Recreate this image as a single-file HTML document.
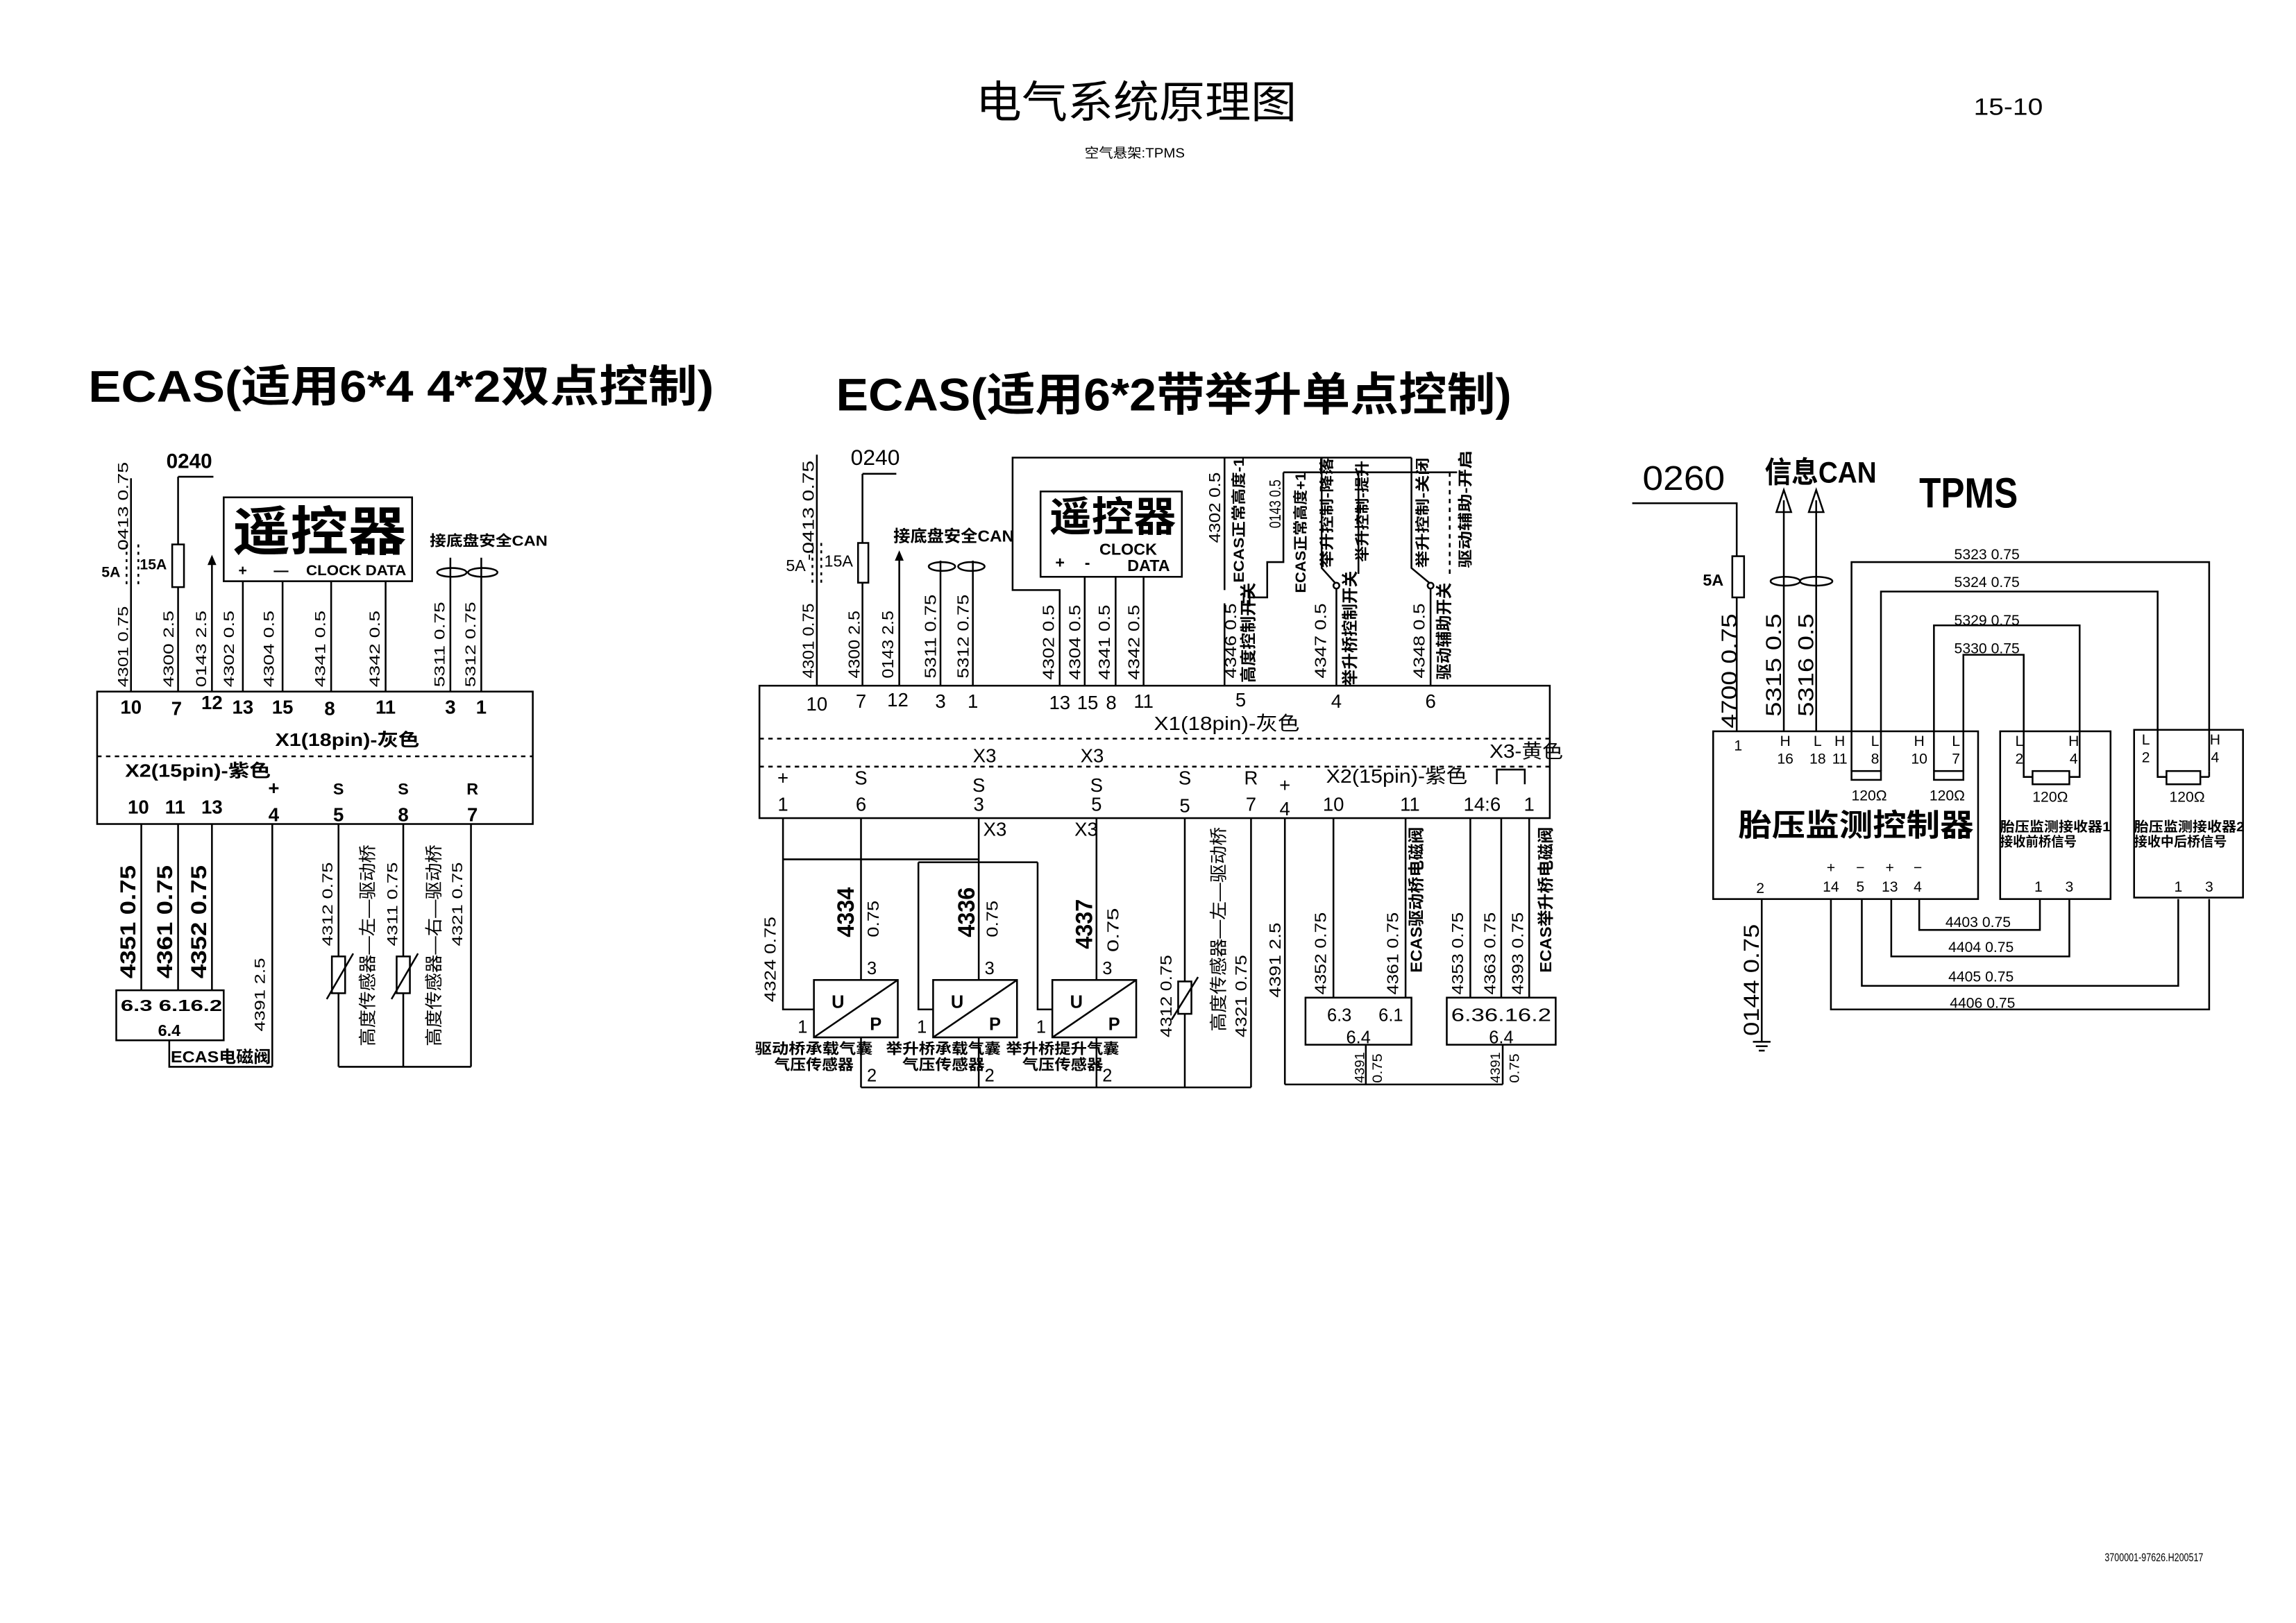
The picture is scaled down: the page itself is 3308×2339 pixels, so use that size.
<!DOCTYPE html>
<html><head><meta charset="utf-8"><style>
html,body{margin:0;padding:0;background:#fff}
svg{display:block}
text{font-family:"Liberation Sans","Noto Sans CJK SC",sans-serif;fill:#000}
.b{font-weight:bold}
</style></head><body>
<svg width="3308" height="2339" viewBox="0 0 1560 1103" preserveAspectRatio="none" xmlns="http://www.w3.org/2000/svg">
<rect width="1560" height="1103" fill="#fff"/>
<g stroke="#000" stroke-width="1.2" fill="none">
<!-- ===== Section 1 ===== -->
<rect x="66" y="470" width="296" height="90"/>
<line x1="66" y1="514" x2="362" y2="514" stroke-dasharray="3,3"/>
<line x1="89" y1="325" x2="89" y2="470"/>
<line x1="86" y1="370" x2="86" y2="399" stroke-dasharray="2,3"/>
<line x1="94" y1="370" x2="94" y2="399" stroke-dasharray="2,3"/>
<line x1="121" y1="324" x2="121" y2="470"/>
<line x1="121" y1="324" x2="145" y2="324"/>
<rect x="117" y="370" width="8" height="29" fill="#fff"/>
<line x1="144" y1="381" x2="144" y2="470"/>
<rect x="152" y="338" width="128" height="57"/>
<line x1="165" y1="395" x2="165" y2="470"/>
<line x1="192" y1="395" x2="192" y2="470"/>
<line x1="225" y1="395" x2="225" y2="470"/>
<line x1="262" y1="395" x2="262" y2="470"/>
<line x1="306" y1="379" x2="306" y2="470"/>
<line x1="327" y1="379" x2="327" y2="470"/>
<ellipse cx="307" cy="389" rx="10" ry="3"/>
<ellipse cx="328" cy="389" rx="10" ry="3"/>
<line x1="96" y1="560" x2="96" y2="673"/>
<line x1="121" y1="560" x2="121" y2="673"/>
<line x1="144" y1="560" x2="144" y2="673"/>
<rect x="79" y="673" width="73" height="34"/>
<polyline points="115,707 115,725 185,725"/>
<line x1="185" y1="560" x2="185" y2="725"/>
<line x1="230" y1="560" x2="230" y2="725"/>
<line x1="274" y1="560" x2="274" y2="725"/>
<line x1="320" y1="560" x2="320" y2="725"/>
<line x1="230" y1="725" x2="320" y2="725"/>
<rect x="225.5" y="650" width="9" height="25" fill="#fff"/>
<line x1="222" y1="679" x2="240" y2="648"/>
<rect x="269.5" y="650" width="9" height="25" fill="#fff"/>
<line x1="266" y1="679" x2="284" y2="648"/>
<!-- ===== Section 2 ===== -->
<rect x="516" y="466" width="537" height="90"/>
<line x1="516" y1="502" x2="1053" y2="502" stroke-dasharray="3,3"/>
<line x1="516" y1="521" x2="1053" y2="521" stroke-dasharray="3,3"/>
<line x1="555" y1="309" x2="555" y2="466"/>
<line x1="552" y1="369" x2="552" y2="396" stroke-dasharray="2,3"/>
<line x1="558" y1="369" x2="558" y2="396" stroke-dasharray="2,3"/>
<line x1="586" y1="322" x2="586" y2="466"/>
<line x1="586" y1="322" x2="609" y2="322"/>
<rect x="583" y="369" width="7" height="27" fill="#fff"/>
<line x1="611" y1="378" x2="611" y2="466"/>
<line x1="639" y1="381" x2="639" y2="466"/>
<line x1="661" y1="381" x2="661" y2="466"/>
<ellipse cx="640" cy="385" rx="9" ry="3"/>
<ellipse cx="660" cy="385" rx="9" ry="3"/>
<rect x="707" y="334" width="96" height="58"/>
<polyline points="720,466 720,401 688,401 688,311 959,311"/>
<line x1="737" y1="392" x2="737" y2="466"/>
<line x1="758" y1="392" x2="758" y2="466"/>
<line x1="777" y1="392" x2="777" y2="466"/>
<!-- switches -->
<line x1="832" y1="311" x2="832" y2="401"/>
<line x1="832" y1="410" x2="832" y2="466"/>
<line x1="845" y1="403" x2="845" y2="410"/>
<line x1="849" y1="401" x2="849" y2="412"/>
<polyline points="849,406 861,406 861,382 872,382 872,321"/>
<line x1="872" y1="321" x2="988" y2="321"/>
<line x1="988" y1="321" x2="996" y2="321" stroke-dasharray="2,2"/>
<line x1="908" y1="400" x2="908" y2="466"/>
<circle cx="908" cy="398" r="2"/>
<polyline points="907,396 898,386 898,311"/>
<line x1="923" y1="321" x2="923" y2="390"/>
<line x1="972" y1="400" x2="972" y2="466"/>
<circle cx="972" cy="398" r="2"/>
<polyline points="971,396 959,386 959,311"/>
<line x1="985" y1="321" x2="985" y2="392" stroke-dasharray="3,3"/>
<!-- bottom -->
<polyline points="532,556 532,686 553,686"/>
<line x1="532" y1="584" x2="665" y2="584"/>
<line x1="585" y1="556" x2="585" y2="666"/>
<line x1="585" y1="705" x2="585" y2="739"/>
<line x1="665" y1="556" x2="665" y2="666"/>
<line x1="665" y1="705" x2="665" y2="739"/>
<line x1="624" y1="586" x2="705" y2="586"/>
<polyline points="624,586 624,686 634,686"/>
<polyline points="705,586 705,686 715,686"/>
<line x1="745" y1="556" x2="745" y2="666"/>
<line x1="745" y1="705" x2="745" y2="739"/>
<rect x="553" y="666" width="57" height="39"/>
<line x1="553" y1="705" x2="610" y2="666"/>
<rect x="634" y="666" width="57" height="39"/>
<line x1="634" y1="705" x2="691" y2="666"/>
<rect x="715" y="666" width="57" height="39"/>
<line x1="715" y1="705" x2="772" y2="666"/>
<line x1="805" y1="556" x2="805" y2="739"/>
<rect x="800.5" y="667" width="9" height="22" fill="#fff"/>
<line x1="796" y1="693" x2="814" y2="664"/>
<line x1="850" y1="556" x2="850" y2="739"/>
<line x1="585" y1="739" x2="850" y2="739"/>
<line x1="873" y1="556" x2="873" y2="737"/>
<line x1="873" y1="737" x2="1021" y2="737"/>
<line x1="906" y1="556" x2="906" y2="678"/>
<line x1="955" y1="556" x2="955" y2="678"/>
<rect x="887" y="678" width="72" height="32"/>
<line x1="928" y1="710" x2="928" y2="737"/>
<line x1="999" y1="556" x2="999" y2="678"/>
<line x1="1020" y1="556" x2="1020" y2="678"/>
<line x1="1039" y1="556" x2="1039" y2="678"/>
<rect x="983" y="678" width="74" height="32"/>
<line x1="1021" y1="710" x2="1021" y2="737"/>
<polyline points="1017,533 1017,523 1036,523 1036,533"/>
<!-- ===== Section 3 ===== -->
<polyline points="1109,342 1180,342 1180,497"/>
<rect x="1177" y="378" width="8" height="28" fill="#fff"/>
<line x1="1212" y1="340" x2="1212" y2="497"/>
<line x1="1234" y1="340" x2="1234" y2="497"/>
<polygon points="1207,348 1212,333 1217,348"/>
<polygon points="1229,348 1234,333 1239,348"/>
<ellipse cx="1213" cy="395" rx="10" ry="3"/>
<ellipse cx="1234" cy="395" rx="11" ry="3"/>
<rect x="1164" y="497" width="180" height="114"/>
<rect x="1359" y="497" width="75" height="114"/>
<rect x="1450" y="496" width="74" height="114"/>
<polyline points="1258,524 1258,382 1501,382 1501,524"/>
<polyline points="1278,524 1278,402 1466,402 1466,528 1472,528"/>
<polyline points="1314,524 1314,425 1413,425 1413,528 1406,528"/>
<polyline points="1334,524 1334,445 1375,445 1375,528 1381,528"/>
<line x1="1495" y1="528" x2="1501" y2="528"/>
<line x1="1501" y1="524" x2="1501" y2="528"/>
<rect x="1258" y="524" width="20" height="6"/>
<rect x="1314" y="524" width="20" height="6"/>
<rect x="1381" y="524" width="25" height="9"/>
<rect x="1472" y="524" width="23" height="9"/>
<polyline points="1304,611 1304,632 1386,632 1386,611"/>
<polyline points="1285,611 1285,650 1406,650 1406,611"/>
<polyline points="1265,611 1265,670 1480,670 1480,611"/>
<polyline points="1244,611 1244,686 1501,686 1501,611"/>
<line x1="1197" y1="611" x2="1197" y2="708"/>
<line x1="1191" y1="708" x2="1203" y2="708"/>
<line x1="1193" y1="711" x2="1201" y2="711"/>
<line x1="1195" y1="714" x2="1199" y2="714"/>
</g>
<polygon points="141,384 144,377 147,384" fill="#000"/>
<polygon points="608,381 611,374 614,381" fill="#000"/>

<!-- ===== Titles ===== -->
<text x="663" y="80" font-size="30" textLength="218" lengthAdjust="spacingAndGlyphs">电气系统原理图</text>
<text x="1341" y="78" font-size="16" textLength="47" lengthAdjust="spacingAndGlyphs">15-10</text>
<text x="737" y="107" font-size="9" textLength="68" lengthAdjust="spacingAndGlyphs">空气悬架:TPMS</text>
<text x="1430" y="1061" font-size="8" textLength="67" lengthAdjust="spacingAndGlyphs">3700001-97626.H200517</text>
<text x="60" y="273" font-size="30" class="b" textLength="425" lengthAdjust="spacingAndGlyphs">ECAS(适用6*4  4*2双点控制)</text>
<text x="568" y="279" font-size="31" class="b" textLength="459" lengthAdjust="spacingAndGlyphs">ECAS(适用6*2带举升单点控制)</text>

<!-- Section 1 text -->
<g font-size="10">
<text x="113" y="318" font-size="14" class="b">0240</text>
<text x="158" y="374" font-size="36" class="b" textLength="118" lengthAdjust="spacingAndGlyphs">遥控器</text>
<text x="162" y="391" class="b">+</text>
<text x="186" y="391" class="b">—</text>
<text x="208" y="391" class="b" textLength="68" lengthAdjust="spacingAndGlyphs">CLOCK DATA</text>
<text x="292" y="371" class="b" textLength="80" lengthAdjust="spacingAndGlyphs">接底盘安全CAN</text>
<text x="69" y="392" class="b">5A</text>
<text x="95" y="387" class="b">15A</text>
</g>
<g font-size="13" class="b" text-anchor="middle">
<text x="89" y="485">10</text><text x="120" y="486">7</text><text x="144" y="482">12</text>
<text x="165" y="485">13</text><text x="192" y="485">15</text><text x="224" y="486">8</text>
<text x="262" y="485">11</text><text x="306" y="485">3</text><text x="327" y="485">1</text>
<text x="186" y="540">+</text><text x="230" y="540" font-size="11">S</text><text x="274" y="540" font-size="11">S</text><text x="321" y="540" font-size="11">R</text>
<text x="94" y="553">10</text><text x="119" y="553">11</text><text x="144" y="553">13</text>
<text x="186" y="558">4</text><text x="230" y="558">5</text><text x="274" y="558">8</text><text x="321" y="558">7</text>
<text x="115" y="704" font-size="11">6.4</text>
</g>
<text x="187" y="507" font-size="12" class="b" textLength="98" lengthAdjust="spacingAndGlyphs">X1(18pin)-灰色</text>
<text x="85" y="528" font-size="12" class="b" textLength="99" lengthAdjust="spacingAndGlyphs">X2(15pin)-紫色</text>
<text x="82" y="687" font-size="11" class="b" textLength="69" lengthAdjust="spacingAndGlyphs">6.3 6.16.2</text>
<text x="116" y="722" font-size="11" class="b" textLength="68" lengthAdjust="spacingAndGlyphs">ECAS电磁阀</text>
<g font-size="10" lengthAdjust="spacingAndGlyphs">
<text transform="translate(87,467) rotate(-90)" textLength="55" lengthAdjust="spacingAndGlyphs">4301 0.75</text>
<text transform="translate(87,374) rotate(-90)" textLength="60" lengthAdjust="spacingAndGlyphs">0413 0.75</text>
<text transform="translate(118,467) rotate(-90)" textLength="52" lengthAdjust="spacingAndGlyphs">4300 2.5</text>
<text transform="translate(140,467) rotate(-90)" textLength="52" lengthAdjust="spacingAndGlyphs">0143 2.5</text>
<text transform="translate(159,467) rotate(-90)" textLength="52" lengthAdjust="spacingAndGlyphs">4302 0.5</text>
<text transform="translate(186,467) rotate(-90)" textLength="52" lengthAdjust="spacingAndGlyphs">4304 0.5</text>
<text transform="translate(221,467) rotate(-90)" textLength="52" lengthAdjust="spacingAndGlyphs">4341 0.5</text>
<text transform="translate(258,467) rotate(-90)" textLength="52" lengthAdjust="spacingAndGlyphs">4342 0.5</text>
<text transform="translate(302,467) rotate(-90)" textLength="58" lengthAdjust="spacingAndGlyphs">5311 0.75</text>
<text transform="translate(323,467) rotate(-90)" textLength="58" lengthAdjust="spacingAndGlyphs">5312 0.75</text>
<text transform="translate(92,665) rotate(-90)" font-size="15" class="b" textLength="77" lengthAdjust="spacingAndGlyphs">4351 0.75</text>
<text transform="translate(117,665) rotate(-90)" font-size="15" class="b" textLength="77" lengthAdjust="spacingAndGlyphs">4361 0.75</text>
<text transform="translate(140,665) rotate(-90)" font-size="15" class="b" textLength="77" lengthAdjust="spacingAndGlyphs">4352 0.75</text>
<text transform="translate(180,701) rotate(-90)" textLength="50" lengthAdjust="spacingAndGlyphs">4391 2.5</text>
<text transform="translate(226,643) rotate(-90)" textLength="57" lengthAdjust="spacingAndGlyphs">4312 0.75</text>
<text transform="translate(254,711) rotate(-90)" font-size="12" textLength="137" lengthAdjust="spacingAndGlyphs">高度传感器—左—驱动桥</text>
<text transform="translate(270,643) rotate(-90)" textLength="57" lengthAdjust="spacingAndGlyphs">4311 0.75</text>
<text transform="translate(299,711) rotate(-90)" font-size="12" textLength="137" lengthAdjust="spacingAndGlyphs">高度传感器—右—驱动桥</text>
<text transform="translate(314,643) rotate(-90)" textLength="57" lengthAdjust="spacingAndGlyphs">4321 0.75</text>
</g>

<!-- Section 2 text -->
<text x="578" y="316" font-size="15">0240</text>
<text x="713" y="361" font-size="28" class="b" textLength="86" lengthAdjust="spacingAndGlyphs">遥控器</text>
<g font-size="11" class="b">
<text x="717" y="386">+</text><text x="737" y="386">-</text>
<text x="747" y="377">CLOCK</text><text x="766" y="388">DATA</text>
<text x="607" y="368" textLength="82" lengthAdjust="spacingAndGlyphs">接底盘安全CAN</text>
<text x="534" y="388" font-weight="normal">5A</text><text x="560" y="385" font-weight="normal">15A</text>
</g>
<g font-size="13" text-anchor="middle">
<text x="555" y="483">10</text><text x="585" y="481">7</text><text x="610" y="480">12</text>
<text x="639" y="481">3</text><text x="661" y="481">1</text><text x="720" y="482">13</text>
<text x="739" y="482">15</text><text x="755" y="482">8</text><text x="777" y="481">11</text>
<text x="843" y="480">5</text><text x="908" y="481">4</text><text x="972" y="481">6</text>
<text x="532" y="533">+</text><text x="585" y="533">S</text><text x="665" y="538">S</text><text x="745" y="538">S</text>
<text x="805" y="533">S</text><text x="850" y="533">R</text><text x="873" y="538">+</text>
<text x="532" y="551">1</text><text x="585" y="551">6</text><text x="665" y="551">3</text><text x="745" y="551">5</text>
<text x="805" y="552">5</text><text x="850" y="551">7</text><text x="873" y="554">4</text>
<text x="906" y="551">10</text><text x="958" y="551">11</text><text x="1007" y="551">14:6</text><text x="1039" y="551">1</text>
<text x="669" y="518">X3</text><text x="742" y="518">X3</text>
<text x="676" y="568">X3</text><text x="738" y="568">X3</text>
</g>
<text x="784" y="496" font-size="13" textLength="99" lengthAdjust="spacingAndGlyphs">X1(18pin)-灰色</text>
<text x="901" y="532" font-size="13" textLength="96" lengthAdjust="spacingAndGlyphs">X2(15pin)-紫色</text>
<text x="1012" y="515" font-size="13" textLength="50" lengthAdjust="spacingAndGlyphs">X3-黄色</text>
<g font-size="12" class="b">
<text x="565" y="685">U</text><text x="591" y="700">P</text>
<text x="646" y="685">U</text><text x="672" y="700">P</text>
<text x="727" y="685">U</text><text x="753" y="700">P</text>
<text x="542" y="702" font-weight="normal">1</text><text x="623" y="702" font-weight="normal">1</text><text x="704" y="702" font-weight="normal">1</text>
<text x="589" y="662" font-weight="normal">3</text><text x="669" y="662" font-weight="normal">3</text><text x="749" y="662" font-weight="normal">3</text>
<text x="589" y="735" font-weight="normal">2</text><text x="669" y="735" font-weight="normal">2</text><text x="749" y="735" font-weight="normal">2</text>
</g>
<g font-size="10" class="b" text-anchor="middle">
<text x="553" y="716" textLength="80" lengthAdjust="spacingAndGlyphs">驱动桥承载气囊</text>
<text x="553" y="727" textLength="54" lengthAdjust="spacingAndGlyphs">气压传感器</text>
<text x="641" y="716" textLength="78" lengthAdjust="spacingAndGlyphs">举升桥承载气囊</text>
<text x="641" y="727" textLength="56" lengthAdjust="spacingAndGlyphs">气压传感器</text>
<text x="722" y="716" textLength="77" lengthAdjust="spacingAndGlyphs">举升桥提升气囊</text>
<text x="722" y="727" textLength="55" lengthAdjust="spacingAndGlyphs">气压传感器</text>
</g>
<g font-size="12" text-anchor="middle">
<text x="910" y="694">6.3</text><text x="945" y="694">6.1</text><text x="923" y="709">6.4</text>
<text x="1020" y="694" textLength="68" lengthAdjust="spacingAndGlyphs">6.36.16.2</text><text x="1020" y="709">6.4</text>
</g>
<g font-size="11">
<text transform="translate(553,461) rotate(-90)" textLength="51" lengthAdjust="spacingAndGlyphs">4301 0.75</text>
<text transform="translate(553,381) rotate(-90)" textLength="68" lengthAdjust="spacingAndGlyphs">-0413 0.75</text>
<text transform="translate(584,461) rotate(-90)" textLength="46" lengthAdjust="spacingAndGlyphs">4300 2.5</text>
<text transform="translate(607,461) rotate(-90)" textLength="46" lengthAdjust="spacingAndGlyphs">0143 2.5</text>
<text transform="translate(636,461) rotate(-90)" textLength="57" lengthAdjust="spacingAndGlyphs">5311 0.75</text>
<text transform="translate(658,461) rotate(-90)" textLength="57" lengthAdjust="spacingAndGlyphs">5312 0.75</text>
<text transform="translate(716,462) rotate(-90)" textLength="51" lengthAdjust="spacingAndGlyphs">4302 0.5</text>
<text transform="translate(734,462) rotate(-90)" textLength="51" lengthAdjust="spacingAndGlyphs">4304 0.5</text>
<text transform="translate(754,462) rotate(-90)" textLength="51" lengthAdjust="spacingAndGlyphs">4341 0.5</text>
<text transform="translate(774,462) rotate(-90)" textLength="51" lengthAdjust="spacingAndGlyphs">4342 0.5</text>
<text transform="translate(840,461) rotate(-90)" textLength="51" lengthAdjust="spacingAndGlyphs">4346 0.5</text>
<text transform="translate(852,464) rotate(-90)" class="b" textLength="68" lengthAdjust="spacingAndGlyphs">高度控制开关</text>
<text transform="translate(829,369) rotate(-90)" textLength="48" lengthAdjust="spacingAndGlyphs">4302 0.5</text>
<text transform="translate(845,396) rotate(-90)" font-size="10" class="b" textLength="85" lengthAdjust="spacingAndGlyphs">ECAS正常高度-1</text>
<text transform="translate(870,359) rotate(-90)" textLength="33" lengthAdjust="spacingAndGlyphs">0143 0.5</text>
<text transform="translate(887,403) rotate(-90)" font-size="10" class="b" textLength="82" lengthAdjust="spacingAndGlyphs">ECAS正常高度+1</text>
<text transform="translate(901,461) rotate(-90)" textLength="51" lengthAdjust="spacingAndGlyphs">4347 0.5</text>
<text transform="translate(921,466) rotate(-90)" class="b" textLength="78" lengthAdjust="spacingAndGlyphs">举升桥控制开关</text>
<text transform="translate(905,386) rotate(-90)" font-size="10" class="b" textLength="75" lengthAdjust="spacingAndGlyphs">举升控制-降落</text>
<text transform="translate(929,382) rotate(-90)" font-size="10" class="b" textLength="69" lengthAdjust="spacingAndGlyphs">举升控制-提升</text>
<text transform="translate(968,461) rotate(-90)" textLength="51" lengthAdjust="spacingAndGlyphs">4348 0.5</text>
<text transform="translate(985,462) rotate(-90)" class="b" textLength="66" lengthAdjust="spacingAndGlyphs">驱动辅助开关</text>
<text transform="translate(970,386) rotate(-90)" font-size="10" class="b" textLength="75" lengthAdjust="spacingAndGlyphs">举升控制-关闭</text>
<text transform="translate(999,386) rotate(-90)" font-size="10" class="b" textLength="80" lengthAdjust="spacingAndGlyphs">驱动辅助-开启</text>
<text transform="translate(527,681) rotate(-90)" textLength="58" lengthAdjust="spacingAndGlyphs">4324 0.75</text>
<text transform="translate(580,637) rotate(-90)" font-size="16" class="b" textLength="34" lengthAdjust="spacingAndGlyphs">4334</text>
<text transform="translate(597,637) rotate(-90)" textLength="25" lengthAdjust="spacingAndGlyphs">0.75</text>
<text transform="translate(662,637) rotate(-90)" font-size="16" class="b" textLength="34" lengthAdjust="spacingAndGlyphs">4336</text>
<text transform="translate(678,637) rotate(-90)" textLength="25" lengthAdjust="spacingAndGlyphs">0.75</text>
<text transform="translate(742,645) rotate(-90)" font-size="16" class="b" textLength="34" lengthAdjust="spacingAndGlyphs">4337</text>
<text transform="translate(760,647) rotate(-90)" textLength="30" lengthAdjust="spacingAndGlyphs">0.75</text>
<text transform="translate(796,705) rotate(-90)" textLength="56" lengthAdjust="spacingAndGlyphs">4312 0.75</text>
<text transform="translate(832,701) rotate(-90)" font-size="12" textLength="139" lengthAdjust="spacingAndGlyphs">高度传感器—左—驱动桥</text>
<text transform="translate(847,705) rotate(-90)" textLength="56" lengthAdjust="spacingAndGlyphs">4321 0.75</text>
<text transform="translate(870,678) rotate(-90)" textLength="51" lengthAdjust="spacingAndGlyphs">4391 2.5</text>
<text transform="translate(901,676) rotate(-90)" textLength="56" lengthAdjust="spacingAndGlyphs">4352 0.75</text>
<text transform="translate(950,676) rotate(-90)" textLength="56" lengthAdjust="spacingAndGlyphs">4361 0.75</text>
<text transform="translate(966,661) rotate(-90)" class="b" textLength="99" lengthAdjust="spacingAndGlyphs">ECAS驱动桥电磁阀</text>
<text transform="translate(994,676) rotate(-90)" textLength="56" lengthAdjust="spacingAndGlyphs">4353 0.75</text>
<text transform="translate(1016,676) rotate(-90)" textLength="56" lengthAdjust="spacingAndGlyphs">4363 0.75</text>
<text transform="translate(1035,676) rotate(-90)" textLength="56" lengthAdjust="spacingAndGlyphs">4393 0.75</text>
<text transform="translate(1054,661) rotate(-90)" class="b" textLength="99" lengthAdjust="spacingAndGlyphs">ECAS举升桥电磁阀</text>
<text transform="translate(927,736) rotate(-90)" font-size="9" textLength="21" lengthAdjust="spacingAndGlyphs">4391</text>
<text transform="translate(939,736) rotate(-90)" font-size="9" textLength="20" lengthAdjust="spacingAndGlyphs">0.75</text>
<text transform="translate(1019,736) rotate(-90)" font-size="9" textLength="21" lengthAdjust="spacingAndGlyphs">4391</text>
<text transform="translate(1032,736) rotate(-90)" font-size="9" textLength="20" lengthAdjust="spacingAndGlyphs">0.75</text>
</g>

<!-- Section 3 text -->
<text x="1116" y="333" font-size="23" textLength="56" lengthAdjust="spacingAndGlyphs">0260</text>
<text x="1199" y="328" font-size="20" class="b" textLength="76" lengthAdjust="spacingAndGlyphs">信息CAN</text>
<text x="1304" y="345" font-size="29" class="b" textLength="67" lengthAdjust="spacingAndGlyphs">TPMS</text>
<text x="1157" y="398" font-size="11" class="b">5A</text>
<text transform="translate(1180,495) rotate(-90)" font-size="15" textLength="78" lengthAdjust="spacingAndGlyphs">4700 0.75</text>
<text transform="translate(1210,487) rotate(-90)" font-size="15" textLength="70" lengthAdjust="spacingAndGlyphs">5315 0.5</text>
<text transform="translate(1232,487) rotate(-90)" font-size="15" textLength="70" lengthAdjust="spacingAndGlyphs">5316 0.5</text>
<text transform="translate(1195,704) rotate(-90)" font-size="15" textLength="76" lengthAdjust="spacingAndGlyphs">0144 0.75</text>
<g font-size="10" text-anchor="middle">
<text x="1181" y="510">1</text>
<text x="1213" y="507">H</text><text x="1213" y="519">16</text>
<text x="1235" y="507">L</text><text x="1235" y="519">18</text>
<text x="1250" y="507">H</text><text x="1250" y="519">11</text>
<text x="1274" y="507">L</text><text x="1274" y="519">8</text>
<text x="1304" y="507">H</text><text x="1304" y="519">10</text>
<text x="1329" y="507">L</text><text x="1329" y="519">7</text>
<text x="1372" y="507">L</text><text x="1372" y="519">2</text>
<text x="1409" y="507">H</text><text x="1409" y="519">4</text>
<text x="1458" y="506">L</text><text x="1458" y="518">2</text>
<text x="1505" y="506">H</text><text x="1505" y="518">4</text>
<text x="1270" y="544">120Ω</text><text x="1323" y="544">120Ω</text>
<text x="1393" y="545">120Ω</text><text x="1486" y="545">120Ω</text>
<text x="1196" y="607">2</text>
<text x="1244" y="593">+</text><text x="1244" y="606">14</text>
<text x="1264" y="593">−</text><text x="1264" y="606">5</text>
<text x="1284" y="593">+</text><text x="1284" y="606">13</text>
<text x="1303" y="593">−</text><text x="1303" y="606">4</text>
<text x="1385" y="606">1</text><text x="1406" y="606">3</text>
<text x="1480" y="606">1</text><text x="1501" y="606">3</text>
<text x="1350" y="380">5323 0.75</text>
<text x="1350" y="399">5324 0.75</text>
<text x="1350" y="425">5329 0.75</text>
<text x="1350" y="444">5330 0.75</text>
<text x="1344" y="630">4403 0.75</text>
<text x="1346" y="647">4404 0.75</text>
<text x="1346" y="667">4405 0.75</text>
<text x="1347" y="685">4406 0.75</text>
</g>
<text x="1181" y="568" font-size="21" class="b" textLength="160" lengthAdjust="spacingAndGlyphs">胎压监测控制器</text>
<text x="1359" y="565" font-size="9" class="b" textLength="75" lengthAdjust="spacingAndGlyphs">胎压监测接收器1</text>
<text x="1359" y="575" font-size="9" class="b" textLength="52" lengthAdjust="spacingAndGlyphs">接收前桥信号</text>
<text x="1450" y="565" font-size="9" class="b" textLength="75" lengthAdjust="spacingAndGlyphs">胎压监测接收器2</text>
<text x="1450" y="575" font-size="9" class="b" textLength="63" lengthAdjust="spacingAndGlyphs">接收中后桥信号</text>
</svg>
</body></html>
